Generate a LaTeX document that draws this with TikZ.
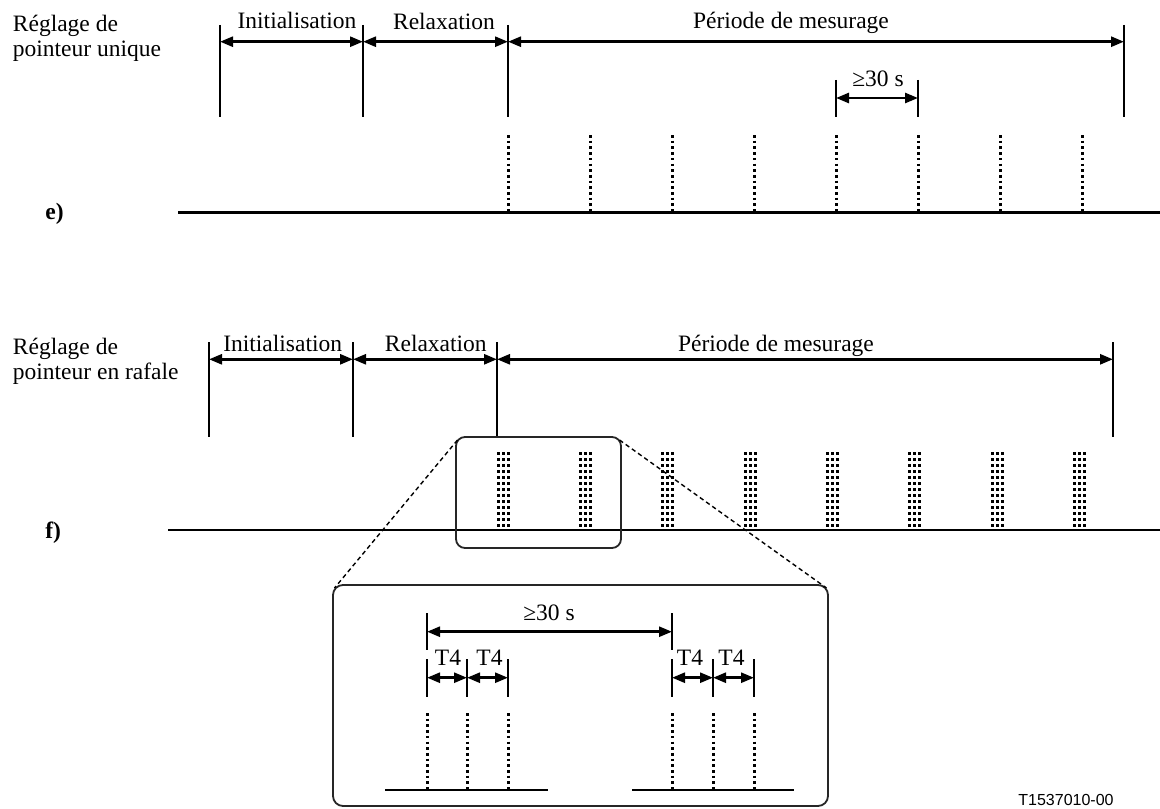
\documentclass[tikz,border=0pt]{standalone}
\usepackage{fontspec}
\setmainfont{Liberation Serif}
\newfontfamily\labelsans{Liberation Sans}
\usetikzlibrary{arrows.meta}
\begin{document}
\begin{tikzpicture}[x=0.5pt,y=-0.5pt,
  tickline/.style={line width=1pt},
  dimline/.style={line width=1.3pt,{Triangle[length=6.5pt,width=5pt]}-{Triangle[length=6.5pt,width=5pt]}},
  axisline/.style={line width=1.3pt},
  dotline/.style={line width=1.5pt,dash pattern=on 1.3pt off 1.55pt},
  zoombox/.style={line width=0.9pt,draw=black!85,rounded corners=4.5pt},
  zoomlink/.style={line width=0.7pt,dash pattern=on 2.2pt off 1.6pt},
  txt/.style={font=\fontsize{11.75}{12.65}\selectfont,inner sep=0pt,anchor=base},
  sidetxt/.style={font=\fontsize{11.75}{12.65}\selectfont,inner sep=0pt,anchor=base west,align=left},
  boldtxt/.style={font=\fontsize{11.75}{12.65}\selectfont\bfseries,inner sep=0pt,anchor=base west}]
\useasboundingbox (0,0) rectangle (1160,808);

% ================= e) =================
\node[sidetxt] (eside) at (12.5,57) {Réglage de\\pointeur unique};
\node[boldtxt] (elab) at (45,219) {e)};
\foreach \n/\x in {a/220,b/363,c/508,d/1124}{
  \coordinate (et\n) at (\x,25);
  \coordinate (eb\n) at (\x,117);
  \coordinate (ea\n) at (\x,41.7);
  \draw[tickline] (et\n) -- (eb\n);
}
\draw[dimline] (eaa) -- (eab);
\draw[dimline] (eab) -- (eac);
\draw[dimline] (eac) -- (ead);
\node[txt] (einit) at (297,29) {Initialisation};
\node[txt] (erelax) at (444,29.3) {Relaxation};
\node[txt] (eper) at (791,29) {Période de mesurage};
% >=30 s
\coordinate (est1) at (836,80); \coordinate (esb1) at (836,117);
\coordinate (est2) at (918,80); \coordinate (esb2) at (918,117);
\coordinate (esa1) at (836,98); \coordinate (esa2) at (918,98);
\draw[tickline] (est1) -- (esb1);
\draw[tickline] (est2) -- (esb2);
\draw[dimline] (esa1) -- (esa2);
\node[txt] (ethirty) at (878,87) {≥30 s};
% pointers
\foreach \i/\x in {1/508,2/590,3/672,4/754,5/836,6/918,7/1000,8/1082}{
  \coordinate (ept\i) at (\x,135);
  \coordinate (epb\i) at (\x,211);
  \draw[dotline] (ept\i) -- (epb\i);
}
\coordinate (eaxL) at (178,212.7);
\coordinate (eaxR) at (1160,212.7);
\draw[axisline] (eaxL) -- (eaxR);

% ================= f) =================
\node[sidetxt] (fside) at (12.5,379.3) {Réglage de\\pointeur en rafale};
\node[boldtxt] (flab) at (45,538) {f)};
\foreach \n/\x in {a/209,b/353,c/497,d/1113}{
  \coordinate (ft\n) at (\x,342);
  \coordinate (fb\n) at (\x,437);
  \coordinate (fa\n) at (\x,359.3);
  \draw[tickline] (ft\n) -- (fb\n);
}
\draw[dimline] (faa) -- (fab);
\draw[dimline] (fab) -- (fac);
\draw[dimline] (fac) -- (fad);
\node[txt] (finit) at (282.7,351.7) {Initialisation};
\node[txt] (frelax) at (435.8,351.7) {Relaxation};
\node[txt] (fper) at (776,351.7) {Période de mesurage};
% bursts
\foreach \c in {0,...,7}{
  \foreach \r in {0,...,12}{
    \foreach \d in {-5,0,5}{
      \fill ({round(502.7+82.3*\c)+\d-1},{452+6*\r}) rectangle ++(2.6,2.6);
    }
  }
}
\coordinate (faxL) at (168,530);
\coordinate (faxR) at (1160,530);
\draw[axisline] (faxL) -- (faxR);
% small zoom box
\draw[zoombox] (456,437) rectangle (621,548);
\coordinate (sbL) at (457.5,440);
\coordinate (sbR) at (619.5,440);
% big box
\draw[zoombox,rounded corners=5pt] (333,585) rectangle (828,806);
\coordinate (bbL) at (334.5,588);
\coordinate (bbR) at (826.5,588);
\draw[zoomlink] (sbL) -- (bbL);
\draw[zoomlink] (sbR) -- (bbR);

% ================= inset =================
\coordinate (it1) at (427,613); \coordinate (ib1) at (427,650);
\coordinate (it2) at (672,613); \coordinate (ib2) at (672,650);
\coordinate (ia1) at (427,631.7); \coordinate (ia2) at (672,631.7);
\draw[tickline] (it1) -- (ib1);
\draw[tickline] (it2) -- (ib2);
\draw[dimline] (ia1) -- (ia2);
\node[txt] (ithirty) at (549,620) {≥30 s};
\foreach \i/\x in {1/427,2/467,3/508,4/672,5/713,6/754}{
  \coordinate (iqt\i) at (\x,659);
  \coordinate (iqb\i) at (\x,697);
  \coordinate (iqa\i) at (\x,677.7);
  \coordinate (idt\i) at (\x,713);
  \coordinate (idb\i) at (\x,789);
  \draw[tickline] (iqt\i) -- (iqb\i);
  \draw[dotline] (idt\i) -- (idb\i);
}
\draw[dimline] (iqa1) -- (iqa2);
\draw[dimline] (iqa2) -- (iqa3);
\draw[dimline] (iqa4) -- (iqa5);
\draw[dimline] (iqa5) -- (iqa6);
\node[txt] (iT1) at (448,665) {T4};
\node[txt] (iT2) at (489.5,665) {T4};
\node[txt] (iT3) at (690,665) {T4};
\node[txt] (iT4) at (731.5,665) {T4};
\coordinate (ibl1) at (385,790); \coordinate (ibr1) at (548,790);
\coordinate (ibl2) at (632,790); \coordinate (ibr2) at (794,790);
\draw[axisline,line width=1.1pt] (ibl1) -- (ibr1);
\draw[axisline,line width=1.1pt] (ibl2) -- (ibr2);

\node[font=\labelsans\fontsize{8}{9}\selectfont,inner sep=0pt,anchor=north west] (ref) at (1018,794) {T1537010-00};
\end{tikzpicture}
\end{document}
